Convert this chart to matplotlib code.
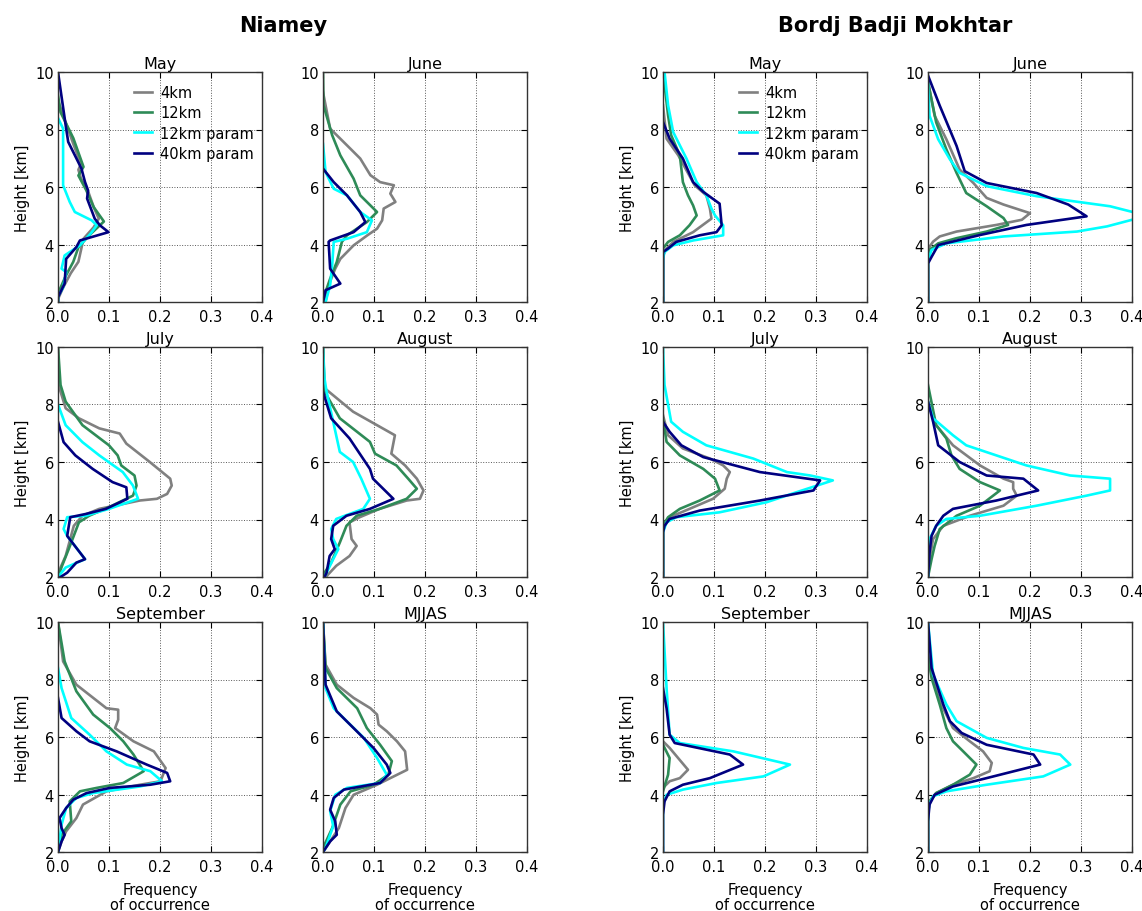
import matplotlib
matplotlib.use('Agg')
import matplotlib.pyplot as plt

# Model runs and line colours
MODELS = ['4km', '12km', '12km param', '40km param']
COLORS = ['gray', 'seagreen', 'cyan', 'navy']
MONTHS = ['May', 'June', 'July', 'August', 'September', 'MJJAS']
STATIONS = ['Niamey', 'Bordj Badji Mokhtar']

# Profiles: month -> [(frequency, height km), ...]
NIA_4KM = {
    'May': [(0, 9.0), (0.01, 8.5), (0.03, 7.5), (0.045, 6.8), (0.04, 6.6), (0.045, 6.3), (0.06, 5.8),
            (0.07, 5.3), (0.08, 4.9), (0.07, 4.6), (0.05, 4.2), (0.045, 3.8), (0.04, 3.4), (0.025, 3.0),
            (0.01, 2.5), (0, 2.1), (0, 2.0)],
    'June': [(0, 9.3), (0.014, 8.03), (0.047, 7.45), (0.073, 6.99), (0.093, 6.41), (0.112, 6.17),
             (0.139, 6.06), (0.132, 5.77), (0.142, 5.48), (0.119, 5.25), (0.116, 4.84), (0.106, 4.55),
             (0.087, 4.32), (0.06, 3.97), (0.034, 3.5), (0.024, 3.16), (0.011, 2.58), (0.005, 2.0)],
    'July': [(0, 10), (0.001, 8.68), (0.015, 7.87), (0.041, 7.52), (0.081, 7.17), (0.121, 6.99),
             (0.134, 6.64), (0.18, 6.0), (0.22, 5.42), (0.223, 5.18), (0.214, 4.89), (0.194, 4.72),
             (0.16, 4.66), (0.081, 4.37), (0.048, 4.13), (0.031, 3.78), (0.024, 3.32), (0.015, 2.73),
             (0.005, 2.33), (0, 2.0)],
    'August': [(0, 10), (0.003, 8.57), (0.059, 7.75), (0.141, 6.93), (0.134, 6.29), (0.161, 5.88),
               (0.184, 5.42), (0.197, 5.01), (0.19, 4.72), (0.164, 4.66), (0.111, 4.37), (0.072, 4.08),
               (0.052, 3.9), (0.056, 3.32), (0.066, 3.08), (0.052, 2.73), (0.026, 2.39), (0.007, 2.03),
               (0.005, 2.0)],
    'September': [(0, 10), (0.01, 8.63), (0.036, 7.82), (0.095, 7.0), (0.118, 6.95), (0.118, 6.6),
                  (0.112, 6.31), (0.148, 5.85), (0.188, 5.5), (0.211, 4.92), (0.201, 4.46), (0.161, 4.34),
                  (0.095, 4.11), (0.049, 3.65), (0.036, 3.18), (0.016, 2.72), (0.007, 2.37), (0, 2.0)],
    'MJJAS': [(0, 10), (0.005, 8.52), (0.027, 7.82), (0.06, 7.36), (0.093, 7.0), (0.106, 6.78),
              (0.109, 6.43), (0.125, 6.2), (0.145, 5.85), (0.161, 5.5), (0.165, 4.86), (0.132, 4.57),
              (0.106, 4.34), (0.06, 3.99), (0.044, 3.53), (0.031, 2.83), (0.014, 2.37), (0, 2.0)],
}
NIA_12KM = {
    'May': [(0, 9.2), (0.005, 8.6), (0.03, 7.7), (0.05, 6.7), (0.04, 6.4), (0.055, 5.9), (0.07, 5.3),
            (0.09, 4.8), (0.06, 4.3), (0.04, 3.9), (0.03, 3.4), (0.015, 2.9), (0, 2.3), (0, 2.0)],
    'June': [(0, 10), (0.001, 8.84), (0.018, 7.8), (0.034, 7.1), (0.06, 6.29), (0.073, 5.71),
             (0.106, 5.13), (0.086, 4.78), (0.047, 4.32), (0.037, 4.09), (0.027, 3.39), (0.014, 2.81),
             (0.005, 2.35), (0, 2.0)],
    'July': [(0, 10), (0.005, 8.68), (0.015, 8.1), (0.048, 7.28), (0.1, 6.58), (0.117, 6.23),
             (0.124, 5.88), (0.15, 5.53), (0.154, 5.18), (0.147, 4.83), (0.1, 4.43), (0.061, 4.13),
             (0.041, 3.9), (0.021, 2.97), (0.008, 2.39), (0, 2.0)],
    'August': [(0, 10), (0.003, 8.45), (0.033, 7.52), (0.092, 6.7), (0.102, 6.29), (0.144, 5.88),
               (0.167, 5.42), (0.184, 5.07), (0.164, 4.72), (0.111, 4.37), (0.066, 4.13), (0.046, 3.78),
               (0.033, 3.2), (0.016, 2.5), (0.003, 2.15), (0, 2.0)],
    'September': [(0, 10), (0.013, 8.63), (0.036, 7.59), (0.069, 6.78), (0.102, 6.31), (0.128, 5.85),
                  (0.148, 5.39), (0.168, 4.81), (0.128, 4.4), (0.076, 4.23), (0.043, 4.11), (0.023, 3.76),
                  (0.026, 3.07), (0.007, 2.6), (0, 2.0)],
    'MJJAS': [(0, 10), (0.005, 8.4), (0.027, 7.7), (0.067, 7.0), (0.086, 6.31), (0.112, 5.73),
              (0.135, 5.16), (0.128, 4.69), (0.099, 4.34), (0.054, 4.11), (0.034, 3.65), (0.018, 2.83),
              (0, 2.14), (0, 2.0)],
}
NIA_12KM_PARAM = {
    'May': [(0, 8.4), (0.01, 8.03), (0.01, 6.06), (0.023, 5.48), (0.033, 5.13), (0.066, 4.84),
            (0.076, 4.67), (0.065, 4.4), (0.043, 3.97), (0.013, 3.62), (0.007, 3.16), (0.016, 3.04),
            (0.01, 2.5), (0, 2.2), (0, 2.0)],
    'June': [(0, 7.5), (0.005, 6.52), (0.021, 5.94), (0.047, 5.71), (0.073, 5.13), (0.096, 4.84),
             (0.086, 4.43), (0.047, 4.2), (0.021, 4.09), (0.018, 3.28), (0.014, 2.58), (0.005, 2.0)],
    'July': [(0, 8.0), (0.015, 7.28), (0.048, 6.69), (0.081, 6.23), (0.127, 5.65), (0.147, 5.18),
             (0.157, 4.72), (0.1, 4.37), (0.054, 4.13), (0.018, 4.08), (0.011, 3.67), (0.018, 3.43),
             (0.053, 2.62), (0.015, 2.33), (0, 2.0)],
    'August': [(0, 10), (0.003, 8.9), (0.007, 8.45), (0.02, 7.4), (0.033, 6.35), (0.059, 6.0),
               (0.075, 5.42), (0.092, 4.72), (0.079, 4.37), (0.026, 4.02), (0.016, 3.67), (0.02, 3.32),
               (0.03, 2.97), (0.02, 2.62), (0.007, 2.15), (0.003, 2.0)],
    'September': [(0, 8.4), (0.007, 7.7), (0.026, 6.66), (0.062, 6.08), (0.095, 5.5), (0.135, 5.04),
                  (0.181, 4.81), (0.204, 4.46), (0.161, 4.28), (0.069, 4.05), (0.036, 3.88),
                  (0.016, 3.53), (0.007, 2.95), (0, 2.0)],
    'MJJAS': [(0, 10), (0.005, 7.7), (0.021, 7.0), (0.047, 6.54), (0.08, 5.97), (0.106, 5.27),
              (0.125, 4.69), (0.112, 4.4), (0.047, 4.23), (0.024, 3.99), (0.014, 3.42), (0.02, 2.9),
              (0.005, 2.14), (0, 2.0)],
}
NIA_40KM_PARAM = {
    'May': [(0, 10), (0.016, 8.03), (0.02, 7.57), (0.046, 6.64), (0.053, 6.17), (0.059, 5.88),
            (0.057, 5.6), (0.072, 4.9), (0.082, 4.67), (0.099, 4.43), (0.043, 4.14), (0.036, 3.91),
            (0.016, 3.5), (0.013, 2.64), (0, 2.17), (0, 2.0)],
    'June': [(0, 6.64), (0.021, 6.17), (0.047, 5.71), (0.073, 5.13), (0.083, 4.78), (0.06, 4.43),
             (0.014, 4.14), (0.011, 4.09), (0.014, 3.16), (0.034, 2.64), (0.005, 2.41), (0, 2.0)],
    'July': [(0, 7.4), (0.011, 6.69), (0.034, 6.23), (0.068, 5.76), (0.107, 5.3), (0.134, 5.12),
             (0.136, 4.72), (0.094, 4.37), (0.054, 4.19), (0.024, 4.08), (0.018, 3.43), (0.053, 2.62),
             (0.036, 2.5), (0.018, 2.15), (0.005, 2.0)],
    'August': [(0, 8.45), (0.016, 7.52), (0.052, 6.82), (0.092, 5.76), (0.098, 5.42), (0.138, 4.72),
               (0.092, 4.37), (0.046, 4.13), (0.02, 3.78), (0.016, 3.32), (0.023, 2.97), (0.013, 2.73),
               (0.007, 2.15), (0.003, 2.0)],
    'September': [(0, 7.36), (0.007, 6.66), (0.036, 6.2), (0.062, 5.85), (0.115, 5.5), (0.174, 5.04),
                  (0.214, 4.75), (0.22, 4.46), (0.181, 4.34), (0.102, 4.23), (0.056, 4.05), (0.03, 3.82),
                  (0.016, 3.53), (0.003, 3.18), (0.007, 2.83), (0.013, 2.6), (0.007, 2.37), (0, 2.0)],
    'MJJAS': [(0, 10), (0.005, 7.82), (0.027, 6.89), (0.06, 6.31), (0.099, 5.62), (0.125, 5.04),
              (0.132, 4.75), (0.112, 4.4), (0.041, 4.17), (0.021, 3.88), (0.014, 3.47), (0.024, 3.07),
              (0.027, 2.6), (0.014, 2.37), (0, 2.0)],
}

BBM_4KM = {
    'May': [(0, 8.84), (0.007, 7.68), (0.03, 7.1), (0.062, 6.06), (0.085, 5.71), (0.092, 5.25),
            (0.095, 4.9), (0.059, 4.43), (0.02, 4.09), (0.007, 3.86), (0, 3.62), (0, 2.0)],
    'June': [(0, 9.65), (0.013, 8.48), (0.036, 7.66), (0.062, 6.61), (0.089, 6.14), (0.115, 5.62),
             (0.148, 5.39), (0.2, 5.09), (0.184, 4.86), (0.134, 4.68), (0.056, 4.45), (0.023, 4.28),
             (0.01, 4.1), (0.003, 3.92), (0, 3.69), (0, 2.0)],
    'July': [(0, 7.63), (0.01, 6.93), (0.039, 6.47), (0.092, 6.12), (0.118, 5.88), (0.131, 5.65),
             (0.125, 5.42), (0.121, 5.07), (0.098, 4.72), (0.052, 4.37), (0.013, 4.08), (0.003, 3.9),
             (0, 3.67), (0, 2.0)],
    'August': [(0, 8.1), (0.016, 7.28), (0.049, 6.58), (0.102, 5.88), (0.148, 5.42), (0.167, 5.3),
               (0.167, 5.07), (0.174, 4.83), (0.148, 4.48), (0.082, 4.13), (0.03, 3.78), (0.01, 3.32),
               (0.003, 2.62), (0, 2.0)],
    'September': [(0, 5.85), (0.013, 5.62), (0.049, 4.86), (0.033, 4.57), (0.013, 4.46), (0, 4.23)],
    'MJJAS': [(0, 8.86), (0.007, 8.17), (0.023, 7.24), (0.049, 6.31), (0.082, 5.85), (0.108, 5.5),
              (0.125, 5.1), (0.121, 4.81), (0.089, 4.57), (0.049, 4.34), (0.016, 4.05), (0.003, 3.76),
              (0, 3.3), (0, 2.0)],
}
BBM_12KM = {
    'May': [(0, 10), (0.01, 8.49), (0.016, 7.8), (0.033, 7.1), (0.039, 6.17), (0.049, 5.71),
            (0.059, 5.36), (0.066, 5.01), (0.052, 4.67), (0.033, 4.32), (0.01, 4.09), (0, 3.86), (0, 2.0)],
    'June': [(0, 9.65), (0.016, 8.25), (0.036, 7.31), (0.056, 6.49), (0.075, 5.79), (0.115, 5.33),
             (0.148, 4.92), (0.157, 4.68), (0.115, 4.45), (0.056, 4.22), (0.02, 4.04), (0.003, 3.81),
             (0, 3.57), (0, 2.0)],
    'July': [(0, 7.51), (0.007, 6.7), (0.033, 6.23), (0.079, 5.76), (0.102, 5.42), (0.111, 5.01),
             (0.072, 4.66), (0.033, 4.37), (0.01, 4.08), (0, 3.78), (0, 2.0)],
    'August': [(0, 8.68), (0.016, 7.28), (0.036, 6.82), (0.046, 6.23), (0.062, 5.76), (0.102, 5.3),
               (0.141, 5.01), (0.102, 4.48), (0.056, 4.13), (0.023, 3.67), (0.013, 3.08), (0.007, 2.62),
               (0, 2.0)],
    'September': [(0, 5.73), (0.013, 5.27), (0.01, 4.69), (0, 4.11)],
    'MJJAS': [(0, 8.86), (0.007, 8.05), (0.023, 7.13), (0.036, 6.31), (0.049, 5.85), (0.069, 5.5),
              (0.095, 5.04), (0.082, 4.69), (0.049, 4.34), (0.016, 4.05), (0.003, 3.76), (0, 3.3), (0, 2.0)],
}
BBM_12KM_PARAM = {
    'May': [(0.003, 10), (0.01, 8.84), (0.02, 7.91), (0.046, 6.99), (0.066, 6.17), (0.085, 5.71),
            (0.095, 5.25), (0.102, 5.01), (0.118, 4.67), (0.118, 4.32), (0.059, 4.14), (0.02, 3.97),
            (0.003, 3.74), (0, 3.5), (0, 2.0)],
    'June': [(0, 9.65), (0.003, 8.48), (0.02, 7.66), (0.043, 6.96), (0.062, 6.49), (0.115, 6.03),
             (0.213, 5.68), (0.357, 5.33), (0.43, 5.0), (0.351, 4.63), (0.292, 4.45), (0.148, 4.28),
             (0.036, 4.04), (0.007, 3.81), (0, 3.46), (0, 2.0)],
    'July': [(0, 10), (0.003, 8.68), (0.016, 7.4), (0.039, 7.05), (0.085, 6.58), (0.177, 6.12),
             (0.243, 5.65), (0.289, 5.53), (0.333, 5.36), (0.302, 5.18), (0.262, 4.95), (0.203, 4.6),
             (0.111, 4.25), (0.026, 4.08), (0.007, 3.9), (0, 3.55), (0, 2.0)],
    'August': [(0, 8.1), (0.01, 7.52), (0.049, 6.93), (0.075, 6.58), (0.193, 5.88), (0.279, 5.53),
               (0.357, 5.42), (0.357, 5.01), (0.311, 4.83), (0.213, 4.48), (0.102, 4.13), (0.036, 4.02),
               (0.016, 3.78), (0.003, 3.32), (0, 2.85), (0, 2.0)],
    'September': [(0, 10), (0.007, 7.7), (0.013, 6.08), (0.033, 5.79), (0.138, 5.5), (0.249, 5.04),
                  (0.197, 4.63), (0.105, 4.4), (0.039, 4.17), (0.007, 3.99), (0, 3.65), (0, 2.0)],
    'MJJAS': [(0, 10), (0.01, 8.17), (0.036, 7.13), (0.056, 6.55), (0.115, 5.97), (0.187, 5.62),
              (0.259, 5.39), (0.279, 5.04), (0.226, 4.63), (0.115, 4.34), (0.036, 4.11), (0.01, 3.94),
              (0.002, 3.65), (0, 3.07), (0, 2.0)],
}
BBM_40KM_PARAM = {
    'May': [(0, 8.26), (0.013, 7.68), (0.039, 6.99), (0.059, 6.17), (0.079, 5.83), (0.111, 5.42),
            (0.115, 4.67), (0.105, 4.43), (0.072, 4.32), (0.026, 4.09), (0.01, 3.86), (0, 3.74), (0, 2.0)],
    'June': [(0, 9.88), (0.023, 8.83), (0.056, 7.43), (0.072, 6.55), (0.115, 6.14), (0.213, 5.79),
             (0.275, 5.39), (0.311, 4.98), (0.193, 4.68), (0.102, 4.33), (0.02, 3.98), (0.007, 3.57),
             (0, 3.34), (0, 2.0)],
    'July': [(0, 7.4), (0.013, 7.05), (0.036, 6.58), (0.079, 6.17), (0.19, 5.65), (0.308, 5.36),
             (0.295, 5.01), (0.19, 4.66), (0.072, 4.31), (0.013, 4.02), (0.003, 3.78), (0, 3.55), (0, 2.0)],
    'August': [(0, 8.1), (0.01, 7.4), (0.02, 6.58), (0.062, 6.0), (0.115, 5.53), (0.187, 5.42),
               (0.216, 5.01), (0.134, 4.66), (0.049, 4.37), (0.03, 4.13), (0.016, 3.78), (0.007, 3.43),
               (0.003, 2.85), (0, 2.0)],
    'September': [(0, 7.7), (0.007, 7.0), (0.013, 6.08), (0.023, 5.79), (0.131, 5.39), (0.157, 5.04),
                  (0.092, 4.57), (0.039, 4.34), (0.013, 4.11), (0.003, 3.76), (0, 3.3), (0, 2.0)],
    'MJJAS': [(0, 10), (0.007, 8.4), (0.03, 7.13), (0.043, 6.55), (0.066, 6.14), (0.115, 5.73),
              (0.207, 5.39), (0.22, 5.04), (0.115, 4.57), (0.049, 4.28), (0.013, 3.99), (0.003, 3.65),
              (0, 3.07), (0, 2.0)],
}

PROFILES = {
    'Niamey': [NIA_4KM, NIA_12KM, NIA_12KM_PARAM, NIA_40KM_PARAM],
    'Bordj Badji Mokhtar': [BBM_4KM, BBM_12KM, BBM_12KM_PARAM, BBM_40KM_PARAM],
}

plt.rcParams['font.family'] = 'DejaVu Sans'
plt.rcParams['font.size'] = 10

W, H = 1142, 912
fig = plt.figure(figsize=(W / 100, H / 100), dpi=100)

# axes layout in pixels (left edges, top edges)
col_left = [[58, 323], [663, 928]]
row_top = [73, 348, 623]
ax_w, ax_h = 204, 230

for s, station in enumerate(STATIONS):
    for i, month in enumerate(MONTHS):
        r, c = divmod(i, 2)
        x0 = col_left[s][c]
        y0 = row_top[r]
        ax = fig.add_axes([x0 / W, 1 - (y0 + ax_h) / H, ax_w / W, ax_h / H])
        for prof, name, color in zip(PROFILES[station], MODELS, COLORS):
            pts = prof[month]
            ax.plot([p[0] for p in pts], [p[1] for p in pts], color=color, lw=1.9, label=name)
        ax.set_xlim(0, 0.4)
        ax.set_ylim(2, 10)
        ax.set_xticks([0.0, 0.1, 0.2, 0.3, 0.4])
        ax.set_yticks([2, 4, 6, 8, 10])
        ax.xaxis.set_major_formatter(matplotlib.ticker.FormatStrFormatter('%.1f'))
        ax.tick_params(direction='in', top=True, right=True, length=4, labelsize=10.5)
        ax.tick_params(axis='x', pad=5)
        ax.tick_params(axis='y', pad=3)
        ax.grid(True, color='0.35', linestyle=':', linewidth=0.7)
        for sp in ax.spines.values():
            sp.set_linewidth(1.0)
            sp.set_color('0.2')
        ax.set_title(month, fontsize=11.5, pad=3)
        if c == 0:
            ax.set_ylabel('Height [km]', fontsize=10.5, labelpad=4)
        if r == 2:
            ax.set_xlabel('Frequency\nof occurrence', fontsize=10.5, labelpad=6, linespacing=1.0)
        if month == 'May':
            ax.legend(loc='upper left', bbox_to_anchor=(0.33, 0.98), frameon=False,
                      fontsize=10.5, handlelength=1.2, handletextpad=0.6, labelspacing=0.35,
                      borderaxespad=0.2)

fig.text(283 / W, 1 - 26 / H, 'Niamey', ha='center', va='center', fontsize=15, fontweight='bold')
fig.text(895 / W, 1 - 26 / H, 'Bordj Badji Mokhtar', ha='center', va='center', fontsize=15,
         fontweight='bold')

fig.savefig('out.png', dpi=100)
